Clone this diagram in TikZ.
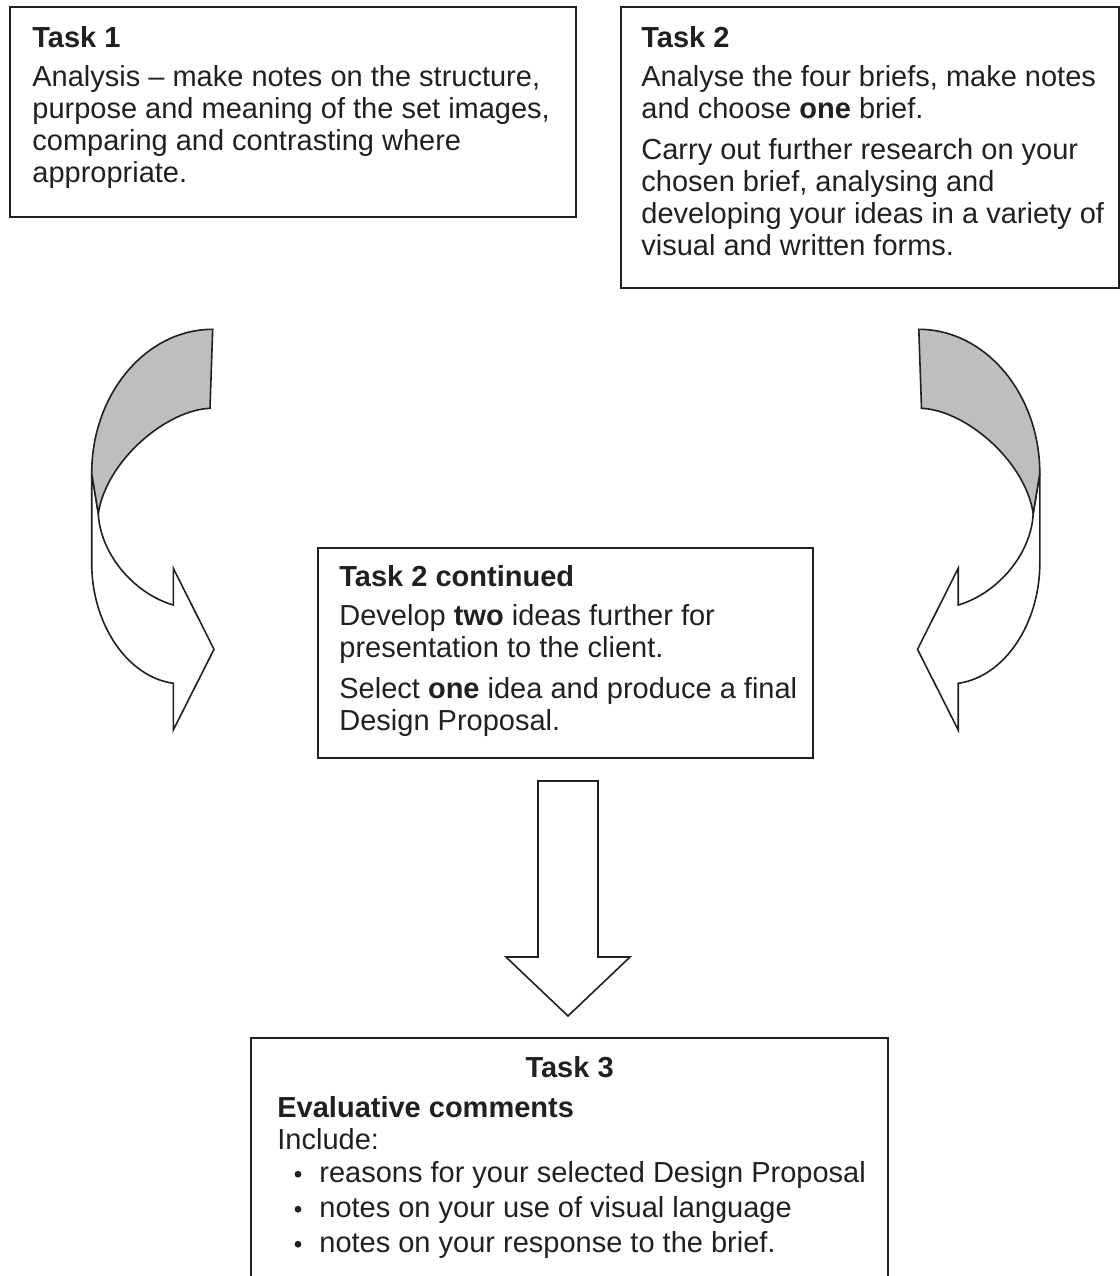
\documentclass[tikz,border=0pt]{standalone}
\usepackage{fontspec}
\setmainfont{Liberation Sans}
\usetikzlibrary{positioning}
\definecolor{inkline}{RGB}{35,31,32}
\definecolor{backgrey}{RGB}{188,190,192}
\newcommand\tasksize{\fontsize{14.5pt}{16pt}\selectfont}
\newcommand\tasklines[1]{\begin{tabular}[t]{@{}l@{}}#1\end{tabular}}

\begin{document}
\begin{tikzpicture}[
    x=0.5pt,y=-0.5pt,font=\tasksize,text=inkline,
    taskbox/.style={draw=inkline,line width=1.1pt,inner sep=0pt,anchor=north west},
    tlabel/.style={font=\tasksize\bfseries,anchor=base west,inner sep=0pt},
    ttext/.style={anchor=base west,inner sep=0pt},
    barr/.style={draw=inkline,line width=0.8pt,line join=miter,fill=white}
    ]
    \useasboundingbox (0,0) rectangle (1120,1276);
    % top row
    \node[taskbox,minimum width=283pt,minimum height=105pt] (t1box) at (9,6) {};
    \node[tlabel] (t1lab) at ([xshift=11.5pt,yshift=-20.5pt]t1box.north west) {Task 1};
    \node[ttext] (t1txt) at ([yshift=-19.5pt]t1lab.base west) {\tasklines{Analysis -- make notes on the structure,\\purpose and meaning of the set images,\\comparing and contrasting where\\appropriate.}};

    \node[taskbox,minimum width=249pt,minimum height=140.5pt] (t2box) at (620,6) {};
    \node[tlabel] (t2lab) at ([xshift=10.5pt,yshift=-20.5pt]t2box.north west) {Task 2};
    \node[ttext] (t2txt) at ([yshift=-19.5pt]t2lab.base west) {\tasklines{Analyse the four briefs, make notes\\and choose \textbf{one} brief.\\[4.5pt]Carry out further research on your\\chosen brief, analysing and\\developing your ideas in a variety of\\visual and written forms.}};

    % curved arrows, left one and its mirror
    \foreach \sx/\dx in {1/0,-1/1131.5}
    {\begin{scope}[shift={(\dx,0)},xscale=\sx]
        \draw[barr] (91.7,473.3) -- (91.7,563.3) .. controls (91.7,623.3) and (126.7,676.7) .. (173.3,683.3)
            -- (173.3,730) -- (214,649.3) -- (173.3,568.3) -- (173.3,605)
            .. controls (133.3,593.3) and (100,553.3) .. (98.3,513.3) -- cycle;
        \draw[barr,fill=backgrey] (212.7,329.3) .. controls (146,329.3) and (91.7,394) .. (91.7,473.3)
            -- (98.3,513.3) .. controls (106.7,460) and (166.7,410) .. (210,408.3) -- cycle;
    \end{scope}}

    % middle
    \node[taskbox,minimum width=247.5pt,minimum height=105pt] (tcbox) at (317,547) {};
    \node[tlabel] (tclab) at ([xshift=11pt,yshift=-19.5pt]tcbox.north west) {Task 2 continued};
    \node[ttext] (tctxt) at ([yshift=-19.5pt]tclab.base west) {\tasklines{Develop \textbf{two} ideas further for\\presentation to the client.\\[4.5pt]Select \textbf{one} idea and produce a final\\Design Proposal.}};

    \draw[barr] (538,781) -- (598,781) -- (598,957) -- (630,957) -- (568,1016) -- (506,957) -- (538,957) -- cycle;

    % bottom, box runs off the page
    \node[taskbox,minimum width=318.5pt,minimum height=135pt] (t3box) at (250,1037) {};
    \node[tlabel,anchor=base] (t3lab) at ([yshift=-20pt]t3box.north) {Task 3};
    \node[tlabel] (t3head) at ([xshift=13.5pt,yshift=-40pt]t3box.north west) {Evaluative comments};
    \node[ttext] (t3inc) at ([yshift=-16pt]t3head.base west) {Include:};
    \foreach \btxt [count=\i] in {reasons for your selected Design Proposal,notes on your use of visual language,notes on your response to the brief.}
    {\node[ttext] (t3b\i) at ([xshift=21pt,yshift={-16.5pt-17.5pt*(\i-1)}]t3inc.base west) {\btxt};
     \fill[inkline] ([xshift=-10.5pt,yshift=3.9pt]t3b\i.base west) circle (1.7pt);}
\end{tikzpicture}
\end{document}
